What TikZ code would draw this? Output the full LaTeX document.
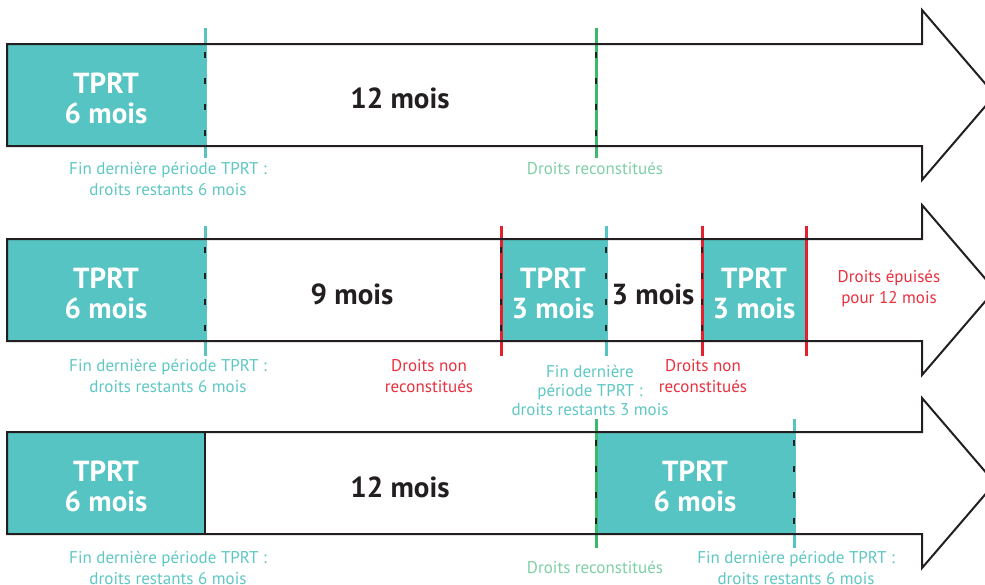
\documentclass[tikz,border=0pt]{standalone}
\usepackage{fontspec}
\setmainfont{PT Sans}
\definecolor{tealc}{HTML}{56C4C2}
\definecolor{tealtxt}{HTML}{5EC7C4}
\definecolor{greenc}{HTML}{3CBA6C}
\definecolor{greentxt}{HTML}{7FCFA6}
\definecolor{redc}{HTML}{E5202E}
\definecolor{redtxt}{HTML}{E8303E}
\definecolor{outl}{HTML}{231F20}
\begin{document}
\begin{tikzpicture}[x=1pt,y=-1pt,
 arrowline/.style={draw=outl, line width=2pt, line join=miter},
 boxfill/.style={fill=tealc},
 sep/.style={draw=outl, line width=1.6pt, dash pattern=on 6pt off 20pt, dash phase=-8pt},
 solidsep/.style={draw=outl, line width=2pt},
 tline/.style={draw=tealc, line width=3pt},
 gline/.style={draw=greenc, line width=3pt},
 rline/.style={draw=redc, line width=3pt},
 boxtxt/.style={text=white, font=\bfseries\fontsize{29}{30}\selectfont, align=center, inner sep=0pt},
 midtxt/.style={text=outl, font=\bfseries\fontsize{29}{30}\selectfont, inner sep=0pt},
 small/.style={font=\fontsize{17}{21}\selectfont, align=center, inner sep=0pt},
 tlab/.style={small, text=tealtxt},
 glab/.style={small, text=greentxt},
 rlab/.style={small, text=redtxt},
]
\useasboundingbox (0,0) rectangle (985,584);

% ---------- Row 1 ----------
\fill[boxfill] (7,44) rectangle (205,146);
\coordinate (r1aT) at (205,28); \coordinate (r1aB) at (205,158);
\coordinate (r1bT) at (596,28); \coordinate (r1bB) at (596,158);
\draw[tline] (r1aT) -- (r1aB);
\draw[gline] (r1bT) -- (r1bB);
\draw[sep] (205,44) -- (205,146);
\draw[sep] (596,44) -- (596,146);
\draw[arrowline] (7,44) -- (922,44) -- (922,10) -- (995,95) -- (922,180) -- (922,146) -- (7,146) -- cycle;
\node[boxtxt] (r1box) at (106,98) {TPRT\\6 mois};
\node[midtxt] (r1mid) at (400,98) {12 mois};
\node[tlab] (r1l1) at (168,179) {Fin dernière période TPRT :\\droits restants 6 mois};
\node[glab] (r1l2) at (595,168) {Droits reconstitués};

% ---------- Row 2 ----------
\fill[boxfill] (7,239) rectangle (205,341);
\fill[boxfill] (501,239) rectangle (606,341);
\fill[boxfill] (702,239) rectangle (806,341);
\coordinate (r2aT) at (205,226); \coordinate (r2aB) at (205,356);
\coordinate (r2bT) at (501,226); \coordinate (r2bB) at (501,356);
\coordinate (r2cT) at (606,226); \coordinate (r2cB) at (606,356);
\coordinate (r2dT) at (702,226); \coordinate (r2dB) at (702,356);
\coordinate (r2eT) at (806,226); \coordinate (r2eB) at (806,356);
\draw[tline] (r2aT) -- (r2aB);
\draw[rline] (r2bT) -- (r2bB);
\draw[tline] (r2cT) -- (r2cB);
\draw[rline] (r2dT) -- (r2dB);
\draw[rline] (r2eT) -- (r2eB);
\foreach \xx in {205,501,606,702} \draw[sep] (\xx,239) -- (\xx,341);
\draw[arrowline] (7,239) -- (922,239) -- (922,205) -- (995,290) -- (922,375) -- (922,341) -- (7,341) -- cycle;
\node[boxtxt] (r2box1) at (106,293) {TPRT\\6 mois};
\node[boxtxt] (r2box2) at (553,293) {TPRT\\3 mois};
\node[boxtxt] (r2box3) at (754,293) {TPRT\\3 mois};
\node[midtxt] (r2mid1) at (352,294) {9 mois};
\node[midtxt] (r2mid2) at (653,294) {3 mois};
\node[tlab] (r2l1) at (168,376) {Fin dernière période TPRT :\\droits restants 6 mois};
\node[rlab] (r2l2) at (429,376) {Droits non\\reconstitués};
\node[tlab, font=\fontsize{17}{19}\selectfont] (r2l3) at (590,390) {Fin dernière\\période TPRT :\\droits restants 3 mois};
\node[rlab] (r2l4) at (703,376) {Droits non\\reconstitués};
\node[rlab] (r2l5) at (889,289) {Droits épuisés\\pour 12 mois};

% ---------- Row 3 ----------
\fill[boxfill] (7,432) rectangle (205,534);
\fill[boxfill] (596,432) rectangle (794,534);
\coordinate (r3aT) at (596,419); \coordinate (r3aB) at (596,548);
\coordinate (r3bT) at (794,419); \coordinate (r3bB) at (794,548);
\draw[gline] (r3aT) -- (r3aB);
\draw[tline] (r3bT) -- (r3bB);
\draw[solidsep] (205,432) -- (205,534);
\draw[sep] (596,432) -- (596,534);
\draw[sep] (794,432) -- (794,534);
\draw[arrowline] (7,432) -- (922,432) -- (922,398) -- (995,483) -- (922,568) -- (922,534) -- (7,534) -- cycle;
\node[boxtxt] (r3box1) at (106,486) {TPRT\\6 mois};
\node[boxtxt] (r3box2) at (695,486) {TPRT\\6 mois};
\node[midtxt] (r3mid) at (400,487) {12 mois};
\node[tlab] (r3l1) at (168,568) {Fin dernière période TPRT :\\droits restants 6 mois};
\node[glab] (r3l2) at (595,567) {Droits reconstitués};
\node[tlab] (r3l3) at (796,568) {Fin dernière période TPRT :\\droits restants 6 mois};
\end{tikzpicture}
\end{document}
